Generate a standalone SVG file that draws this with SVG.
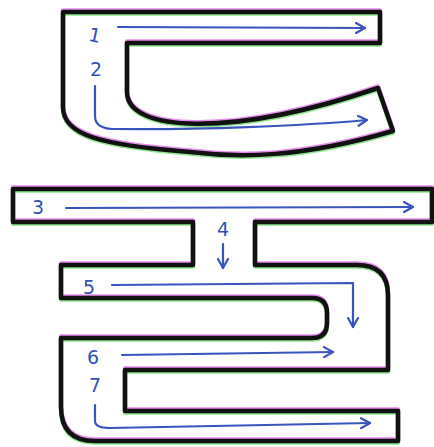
<svg xmlns="http://www.w3.org/2000/svg" xmlns:xlink="http://www.w3.org/1999/xlink" width="434" height="447" viewBox="0 0 434 447">
<style>
.ol{fill:none;stroke:#111;stroke-width:4.5;stroke-linejoin:round}
.mg{fill:none;stroke:#e070e8;stroke-width:4.5;stroke-linejoin:round;opacity:.8}
.gr{fill:none;stroke:#70e070;stroke-width:4.5;stroke-linejoin:round;opacity:.8}
.ar{fill:none;stroke:#3a55c0;stroke-width:2.2;stroke-linecap:round;stroke-linejoin:round}
.lb{font-family:"DejaVu Sans",sans-serif;font-size:19px;fill:#3550b8;text-anchor:middle}
</style>
<defs>
<marker id="ah" viewBox="0 0 12 12" refX="10" refY="6" markerWidth="12" markerHeight="12" markerUnits="userSpaceOnUse" orient="auto">
<path d="M1,1 L10,6 L1,11" fill="none" stroke="#3a55c0" stroke-width="2.2" stroke-linecap="round" stroke-linejoin="round"/>
</marker>
<path id="g1" d="M63,12 L380,12 L380,43 L127,43 L127,92 C127,132 230,138 378,88 L393,131 C300,158 240,158 190,152 C100,145 63,135 63,107 Z"/>
<path id="g2" d="M13,189 L432,189 L432,222 L255,222 L255,265 L357,265 Q388,265 388,295 L388,370 L125,370 L125,411 L398,411 L398,441 L95,441 Q61,441 61,407 L61,338 L312,338 Q327,338 327,323 L327,313 Q327,298 312,298 L61,298 L61,265 L193,265 L193,222 L13,222 Z"/>
</defs>
<g id="shape-top">
<use xlink:href="#g1" class="mg" transform="translate(0,-1.5)"/>
<use xlink:href="#g1" class="gr" transform="translate(0,1.5)"/>
<use xlink:href="#g1" class="ol"/>
</g>
<g id="shape-bottom">
<use xlink:href="#g2" class="mg" transform="translate(0,-1.5)"/>
<use xlink:href="#g2" class="gr" transform="translate(0,1.5)"/>
<use xlink:href="#g2" class="ol"/>
</g>
<g id="connectors">
<path class="ar" d="M118,27 L365,28" marker-end="url(#ah)"/>
<path class="ar" d="M95,86 L95,116 Q95,128 112,129 C200,130 300,126 367,120" marker-end="url(#ah)"/>
<path class="ar" d="M66,208 L413,207" marker-end="url(#ah)"/>
<path class="ar" d="M223,244 L223,268" marker-end="url(#ah)"/>
<path class="ar" d="M112,285 L353,283 L353,327" marker-end="url(#ah)"/>
<path class="ar" d="M122,355 L333,352" marker-end="url(#ah)"/>
<path class="ar" d="M95,405 L95,421 Q95,428 110,428 L370,423" marker-end="url(#ah)"/>
</g>
<g id="labels">
<text class="lb" x="95" y="42" transform="rotate(12 95 34)">1</text>
<text class="lb" x="96" y="76">2</text>
<text class="lb" x="38" y="214">3</text>
<text class="lb" x="223" y="236">4</text>
<text class="lb" x="89" y="294">5</text>
<text class="lb" x="93" y="364">6</text>
<text class="lb" x="95" y="392">7</text>
</g>
</svg>
